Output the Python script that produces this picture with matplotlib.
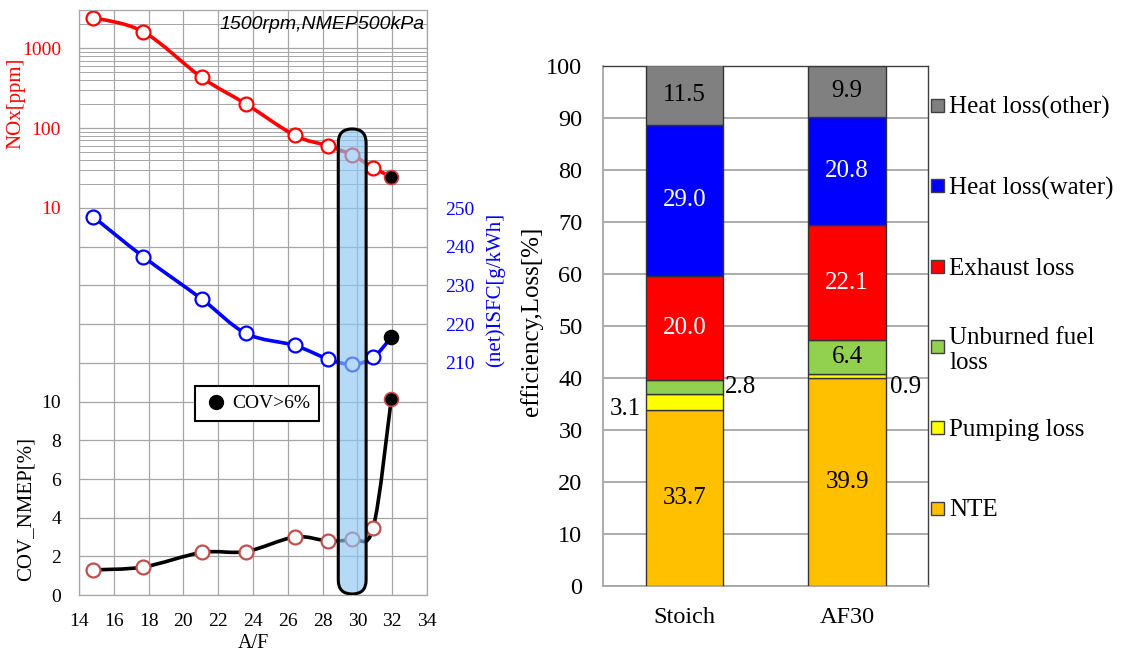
import numpy as np
import matplotlib
matplotlib.use('Agg')
import matplotlib.pyplot as plt
from matplotlib.path import Path
from matplotlib.patches import PathPatch, FancyBboxPatch, Rectangle
from matplotlib.lines import Line2D
from matplotlib.ticker import LogLocator, NullFormatter

plt.rcParams['font.family'] = 'Liberation Serif'

# A/F sweep, 1500rpm NMEP500kPa
af = [14.8, 17.7, 21.05, 23.6, 26.4, 28.3, 29.7, 30.9, 31.95]
nox = [2410, 1600, 430, 200, 81, 60, 46, 32, 24.5]
isfc = [247.8, 237.4, 226.5, 217.6, 214.5, 211.0, 209.6, 211.4, 216.6]
cov = [1.3, 1.45, 2.2, 2.25, 3.0, 2.8, 2.9, 3.45, 10.15]
cov_limit = 6.0
band_af = [28.9, 30.5]

# energy balance
cases = ['Stoich', 'AF30']
nte = [33.7, 39.9]
pumping = [3.1, 0.9]
unburned = [2.8, 6.4]
exhaust = [20.0, 22.1]
heat_water = [29.0, 20.8]
heat_other = [11.5, 9.9]

W, H = 1129, 653
grid_c = '#a6a6a6'


def fbox(l, t, r, b):
    # pixel box -> figure fraction rect
    return [l / W, 1 - b / H, (r - l) / W, (b - t) / H]


def smooth_path(x, y, logy=False):
    # catmull-rom through the points, as cubic beziers
    x = np.asarray(x, float)
    y = np.log10(y) if logy else np.asarray(y, float)
    p = np.column_stack([x, y])
    ext = np.vstack([p[0], p, p[-1]])
    verts = [p[0]]
    for i in range(len(p) - 1):
        p0, p1, p2, p3 = ext[i], ext[i + 1], ext[i + 2], ext[i + 3]
        verts += [p1 + (p2 - p0) / 6, p2 - (p3 - p1) / 6, p2]
    verts = np.array(verts)
    if logy:
        verts[:, 1] = 10 ** verts[:, 1]
    codes = [Path.MOVETO] + [Path.CURVE4] * (len(verts) - 1)
    return Path(verts, codes)


def draw_series(ax, y, line_c, edge_c, bad_edge_c, logy=False):
    ax.add_patch(PathPatch(smooth_path(af, y, logy), fill=False, ec=line_c,
                           lw=2.6, capstyle='round', joinstyle='round'))
    y = np.asarray(y)
    ok = ~unstable
    ax.plot(np.asarray(af)[ok], y[ok], 'o', ls='none', ms=10, mfc='white',
            mec=edge_c, mew=1.6)
    ax.plot(np.asarray(af)[~ok], y[~ok], 'o', ls='none', ms=10, mfc='black',
            mec=bad_edge_c, mew=1.2)


unstable = np.asarray(cov) > cov_limit

fig = plt.figure(figsize=(11.29, 6.53), dpi=100)

ax_nox = fig.add_axes(fbox(79, 10, 427, 208))
ax_sfc = fig.add_axes(fbox(79, 208, 427, 383))
ax_cov = fig.add_axes(fbox(79, 383, 427, 595))

for ax in (ax_nox, ax_sfc, ax_cov):
    ax.set_xlim(14, 34)
    ax.set_xticks(np.arange(14, 35, 2))
    ax.grid(True, which='major', color=grid_c, lw=0.9)
    ax.set_axisbelow(True)
    ax.tick_params(length=0, labelsize=14, pad=13)
    for s in ax.spines.values():
        s.set_color(grid_c)
        s.set_linewidth(0.9)

# NOx (log)
ax_nox.set_yscale('log')
ax_nox.set_ylim(10, 3000)
ax_nox.set_yticks([10, 100, 1000])
ax_nox.set_yticklabels(['10', '100', '1000'])
ax_nox.yaxis.set_minor_locator(LogLocator(subs=np.arange(2, 10)))
ax_nox.yaxis.set_minor_formatter(NullFormatter())
ax_nox.grid(True, which='minor', axis='y', color=grid_c, lw=0.7)
ax_nox.tick_params(which='both', length=0, labelbottom=False, labelcolor='red')
ax_nox.spines['bottom'].set_visible(False)
draw_series(ax_nox, nox, 'red', 'red', '#d04040', logy=True)
ax_nox.text(0.994, 0.929, '1500rpm,NMEP500kPa', transform=ax_nox.transAxes,
            ha='right', va='center', fontsize=14, fontstyle='italic',
            family='Liberation Sans')

# ISFC
ax_sfc.set_ylim(204.8, 250)
ax_sfc.set_yticks(np.arange(210, 251, 10))
ax_sfc.yaxis.tick_right()
ax_sfc.tick_params(labelbottom=False, labelcolor='blue')
ax_sfc.spines['top'].set_visible(False)
ax_sfc.spines['bottom'].set_visible(False)
draw_series(ax_sfc, isfc, 'blue', 'blue', 'black')

# COV
ax_cov.set_ylim(0, 10.97)
ax_cov.set_yticks(np.arange(0, 11, 2))
ax_cov.spines['top'].set_visible(False)
draw_series(ax_cov, cov, 'black', '#c0504d', '#c0504d')
ax_cov.set_xlabel('A/F', fontsize=14.5)
ax_cov.xaxis.set_label_coords(0.5, -0.185)

leg = ax_cov.legend(handles=[Line2D([], [], marker='o', ls='none', color='black', ms=10)],
                    labels=['COV>6%'], loc='upper left',
                    bbox_to_anchor=(195 / W, 1 - 386 / H), bbox_transform=fig.transFigure,
                    borderaxespad=0, fancybox=False, framealpha=1, edgecolor='black',
                    borderpad=0.45, handlelength=1.3, handletextpad=0.15, fontsize=14)
leg.get_frame().set_linewidth(1.5)

fig.text(16 / W, 1 - 103 / H, 'NOx[ppm]', rotation=90, ha='center', va='center',
         color='red', fontsize=15)
fig.text(495 / W, 1 - 290 / H, '(net)ISFC[g/kWh]', rotation=90, ha='center', va='center',
         color='blue', fontsize=15)
fig.text(26 / W, 1 - 509 / H, 'COV_NMEP[%]', rotation=90, ha='center', va='center',
         fontsize=15)

# highlighted A/F window spanning all three panels
ax_band = fig.add_axes(fbox(79, 10, 427, 595))
ax_band.set_xlim(14, 34)
ax_band.set_ylim(0, 1)
ax_band.axis('off')
px_x = 348 / 20.0
px_y = 585.0
half = (band_af[1] - band_af[0]) / 2
ax_band.add_patch(FancyBboxPatch((band_af[0], 0.0017), band_af[1] - band_af[0], 0.795,
                                 boxstyle='round,pad=0,rounding_size=%g' % half,
                                 mutation_aspect=px_x / px_y,
                                 fc=(0.55, 0.78, 0.96, 0.65), ec='black', lw=2.2))

# stacked energy balance
ax_bar = fig.add_axes(fbox(603.3, 65.7, 928.3, 585.7))
series = [('NTE', nte, '#ffc000', 'black'),
          ('Pumping loss', pumping, '#ffff00', 'black'),
          ('Unburned fuel\nloss', unburned, '#92d050', 'black'),
          ('Exhaust loss', exhaust, '#ff0000', 'white'),
          ('Heat loss(water)', heat_water, '#0000ff', 'white'),
          ('Heat loss(other)', heat_other, '#808080', 'black')]

# small segments get their value written beside the bar
beside = {('Pumping loss', 0): ('right', -3.5, -4.5),
          ('Unburned fuel\nloss', 0): ('left', 1, 0),
          ('Pumping loss', 1): ('left', 3, -8)}

xpos = np.arange(len(cases))
bw = 0.477
bottom = np.zeros(len(cases))
for name, vals, col, txt_c in series:
    ax_bar.bar(xpos, vals, bw, bottom=bottom, color=col, edgecolor='#333333',
               lw=1, zorder=3)
    for i, v in enumerate(vals):
        mid = bottom[i] + v / 2
        if (name, i) in beside:
            ha, dx, dy = beside[(name, i)]
            xe = xpos[i] - bw / 2 if ha == 'right' else xpos[i] + bw / 2
            ax_bar.annotate(f'{v:.1f}', (xe, mid), xytext=(dx, dy),
                            textcoords='offset points', ha=ha, va='center',
                            fontsize=18, zorder=4)
        else:
            ax_bar.text(xpos[i], mid, f'{v:.1f}', ha='center', va='center',
                        color=txt_c, fontsize=18, zorder=4)
    bottom += np.asarray(vals)

ax_bar.set_xlim(-0.5, 1.5)
ax_bar.set_ylim(0, 100)
ax_bar.set_yticks(np.arange(0, 101, 10))
ax_bar.set_xticks(xpos)
ax_bar.set_xticklabels(cases)
ax_bar.tick_params(length=0, labelsize=17.5, pad=15)
ax_bar.yaxis.grid(True, color=grid_c, lw=1.3)
ax_bar.set_axisbelow(True)
for k in ('left', 'bottom'):
    ax_bar.spines[k].set_color(grid_c)
    ax_bar.spines[k].set_linewidth(1.3)
for k in ('top', 'right'):
    ax_bar.spines[k].set_color('#404040')
    ax_bar.spines[k].set_linewidth(1.0)
fig.text(532 / W, 1 - 321 / H, 'efficiency,Loss[%]', rotation=90, ha='center',
         va='center', fontsize=18)

# legend column, top entry first
row0, step = 105, 80.6
for j, (name, vals, col, txt_c) in enumerate(series[::-1]):
    y = row0 + j * step
    fig.add_artist(Rectangle((931 / W, 1 - (y + 6.5) / H), 13 / W, 13 / H,
                             transform=fig.transFigure, fc=col, ec='#404040', lw=1))
    fig.text(949 / W, 1 - y / H, name, ha='left', va='center_baseline', fontsize=18,
             linespacing=1.15)

fig.savefig('out.png', dpi=100)
